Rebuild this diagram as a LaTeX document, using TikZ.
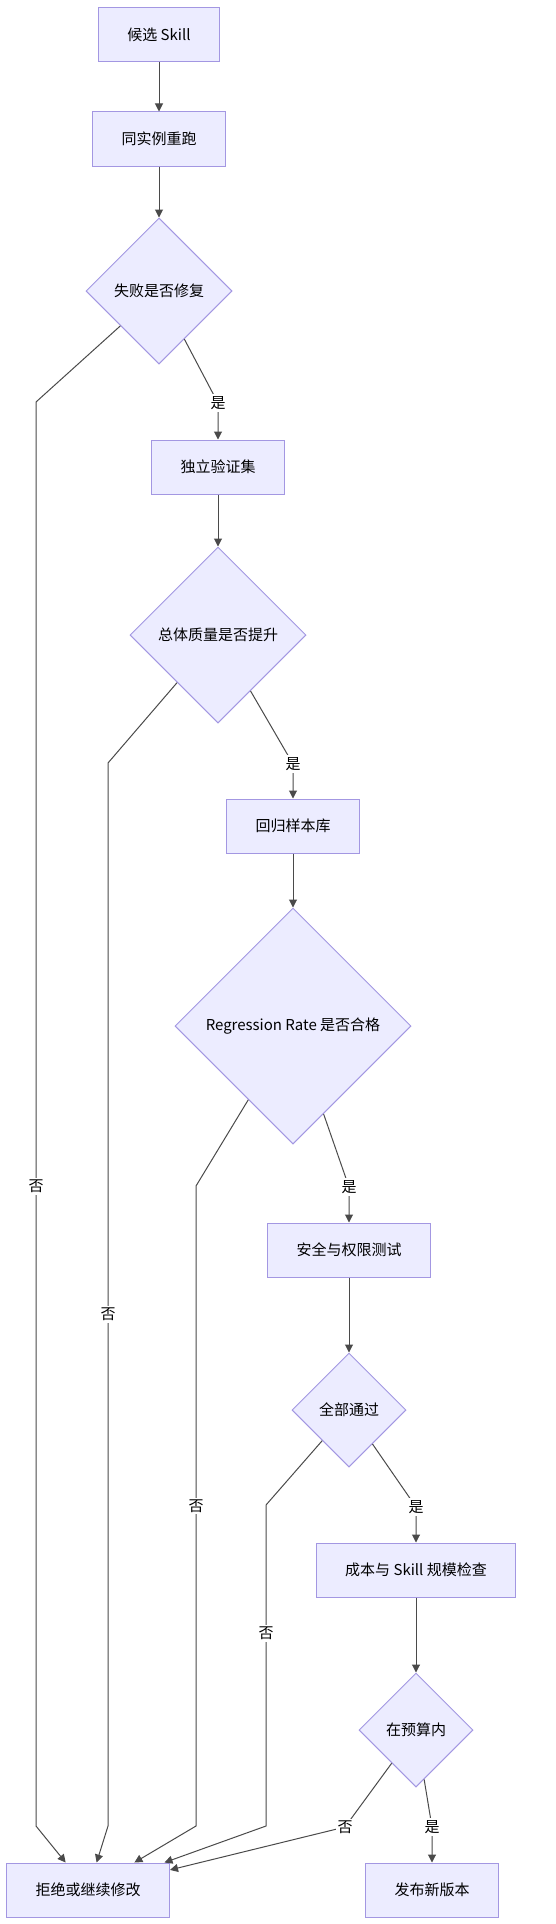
\documentclass[tikz,border=0pt]{standalone}
\usepackage{fontspec}
\setmainfont{Noto Sans CJK SC}
\usetikzlibrary{shapes.geometric,arrows.meta}
\definecolor{fond}{HTML}{ECECFF}
\definecolor{bord}{HTML}{A397E2}
\definecolor{trait}{HTML}{4A4A4A}
\tikzset{
    punkt/.style={
           rectangle,
           draw=bord, fill=fond, line width=1pt,
           inner xsep=29pt,
           minimum height=54pt,
           font=\fontsize{15pt}{18pt}\selectfont,
           text centered},
    choix/.style={
           diamond, aspect=1,
           draw=bord, fill=fond, line width=1pt,
           inner sep=0pt,
           minimum width=#1, minimum height=#1,
           font=\fontsize{15pt}{18pt}\selectfont},
    fleche/.style={
           draw=trait, line width=1pt,
           -{Triangle[length=8pt,width=8pt]}},
    etiq/.style={
           fill=white, inner sep=2pt,
           font=\fontsize{15pt}{18pt}\selectfont}
    }

\begin{document}
\begin{tikzpicture}[x=1pt,y=-1pt]
      \useasboundingbox (0,0) rectangle (555,1924);
      \node[punkt] (0) at (159,35) {候选 Skill};
      \node[punkt] (1) at (159,139) {同实例重跑};
      \node[choix=146pt] (2) at (159,291) {失败是否修复};
      \node[punkt] (3) at (218,467) {独立验证集};
      \node[choix=176pt] (4) at (218,635) {总体质量是否提升};
      \node[punkt] (5) at (293,826) {回归样本库};
      \node[choix=236pt] (6) at (293,1026) {Regression Rate 是否合格};
      \node[punkt] (7) at (349,1250) {安全与权限测试};
      \node[choix=114pt] (8) at (349,1410) {全部通过};
      \node[punkt] (9) at (416,1570) {成本与 Skill 规模检查};
      \node[choix=114pt] (10) at (416,1730) {在预算内};
      \node[punkt] (11) at (432,1890) {发布新版本};
      \node[punkt] (12) at (88,1890) {拒绝或继续修改};
%       coins des branches
      \coordinate (o1) at (218,403);
      \coordinate (o2) at (293,764);
      \coordinate (o3) at (349,1187);
      \coordinate (o4) at (416,1507);
      \coordinate (o5) at (432,1827);
      \coordinate (n1a) at (36,402);
      \coordinate (n1b) at (36,1826);
      \coordinate (n2a) at (108,763);
      \coordinate (n2b) at (108,1826);
      \coordinate (n3a) at (196,1186);
      \coordinate (n3b) at (196,1826);
      \coordinate (n4a) at (266,1505);
      \coordinate (n4b) at (266,1826);
      \coordinate (n5) at (345,1827);
      \draw[fleche] (0) -- (1);
      \draw[fleche] (1) -- (2);
      \draw[fleche] (2) -- (o1) node[etiq] {是} -- (3);
      \draw[fleche] (3) -- (4);
      \draw[fleche] (4) -- (o2) node[etiq] {是} -- (5);
      \draw[fleche] (5) -- (6);
      \draw[fleche] (6) -- (o3) node[etiq] {是} -- (7);
      \draw[fleche] (7) -- (8);
      \draw[fleche] (8) -- (o4) node[etiq] {是} -- (9);
      \draw[fleche] (9) -- (10);
      \draw[fleche] (10) -- (o5) node[etiq] {是} -- (11);
      \draw[fleche] (2) -- (n1a) -- node[etiq,pos=.551] {否} (n1b) -- (12);
      \draw[fleche] (4) -- (n2a) -- node[etiq,pos=.519] {否} (n2b) -- (12);
      \draw[fleche] (6) -- (n3a) -- node[etiq,pos=.5] {否} (n3b) -- (12);
      \draw[fleche] (8) -- (n4a) -- node[etiq,pos=.4] {否} (n4b) -- (12);
      \draw[fleche] (10) -- (n5) node[etiq] {否} -- (12);
\end{tikzpicture}
\end{document}
